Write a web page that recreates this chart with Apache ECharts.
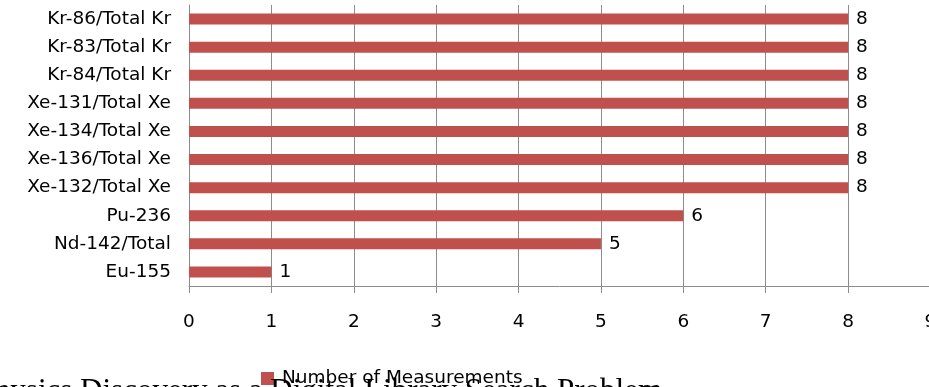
<!DOCTYPE html>
<html>
<head>
<meta charset="utf-8">
<script src="https://cdn.jsdelivr.net/npm/echarts@6/dist/echarts.min.js"></script>
<style>
html,body{margin:0;padding:0;background:#fff;}
#chart{width:929px;height:387px;}
</style>
</head>
<body>
<div id="chart"></div>
<script>
const categories = ["Eu-155","Nd-142/Total","Pu-236","Xe-132/Total Xe","Xe-136/Total Xe","Xe-134/Total Xe","Xe-131/Total Xe","Kr-84/Total Kr","Kr-83/Total Kr","Kr-86/Total Kr"];
const measurements = [1,5,6,8,8,8,8,8,8,8];
const seriesName = "Number of Measurements";
const xTicks = [0,1,2,3,4,5,6,7,8,9];
const pageText = "Physics Discovery as a Digital Library Search Problem";

const FONT = "DejaVu Sans";
const FS = 18.5;
const chart = echarts.init(document.getElementById('chart'), null, {renderer:'canvas'});
chart.setOption({
  animation:false,
  backgroundColor:'#ffffff',
  grid:{left:189, width:741.5, top:5, height:281, containLabel:false, outerBoundsMode:'none'},
  xAxis:{
    type:'value', min:xTicks[0], max:xTicks[xTicks.length-1], interval:1,
    axisLine:{show:true, lineStyle:{color:'#8c8c8c', width:1}},
    axisTick:{show:true, length:7, lineStyle:{color:'#8c8c8c'}},
    splitLine:{show:true, lineStyle:{color:'#8c8c8c', width:1}},
    axisLabel:{color:'#000', fontFamily:FONT, fontSize:FS, margin:27, hideOverlap:false}
  },
  yAxis:{
    type:'category', data:categories,
    axisLine:{show:true, lineStyle:{color:'#8c8c8c', width:1}},
    axisTick:{show:false},
    axisLabel:{color:'#000', fontFamily:FONT, fontSize:FS, margin:18}
  },
  legend:{
    data:[seriesName], left:261, top:369, padding:0, itemWidth:13, itemHeight:13, itemGap:5,
    icon:'rect',
    textStyle:{color:'#000', fontFamily:FONT, fontSize:FS, padding:[0,0,0,3]}
  },
  series:[{
    name:seriesName, type:'bar', data:measurements, barWidth:11,
    itemStyle:{color:'#C0504D'},
    label:{show:true, position:'right', distance:8, color:'#000', fontFamily:FONT, fontSize:FS}
  }],
  graphic:[{
    type:'text', right:267, top:376, z:100,
    style:{text:pageText, fill:'#000', font:'31px "Liberation Serif"'}
  }]
});
</script>
</body>
</html>
